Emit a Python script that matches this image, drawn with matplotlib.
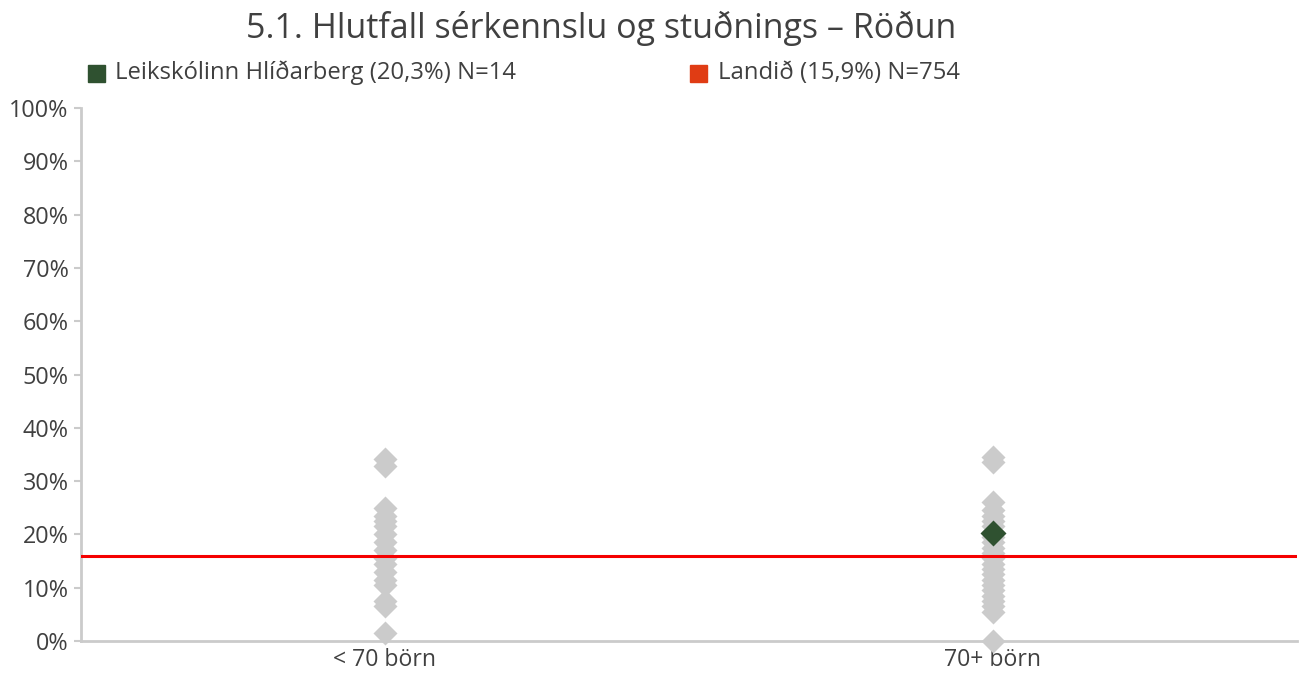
import numpy as np
import matplotlib.pyplot as plt
from matplotlib.patches import Rectangle

plt.rcParams['font.family'] = ['Open Sans', 'DejaVu Sans']

categories = ['< 70 börn', '70+ börn']

# All schools, share of children receiving special support (%)
small_schools = [34.2, 32.9, 25.0, 23.5, 22.5, 21.5, 20.0, 18.5, 17.0,
                 15.5, 14.5, 13.0, 11.5, 10.5, 7.5, 6.5, 1.5]
large_schools = [34.5, 33.5, 26.0, 24.5, 23.5, 22.5, 21.5, 20.5, 19.5,
                 18.5, 17.5, 16.5, 15.5, 14.5, 13.5, 12.5, 11.5, 10.5,
                 9.5, 8.5, 7.5, 6.5, 5.5, 0.0]

school_name = 'Leikskólinn Hlíðarberg'
school_value = 20.3
school_n = 14
school_group = 1
national_value = 15.9
national_n = 754

gray = '#cbcbcb'
green = '#2f5130'
red = '#f50000'
text_col = '#404040'

fig = plt.figure(figsize=(13.06, 6.73), dpi=100)
ax = fig.add_axes([0.062, 0.0475, 0.931, 0.792])

ax.plot([0] * len(small_schools), small_schools, 'D', ms=12.5,
        color=gray, mec='none', clip_on=False, zorder=2)
ax.plot([1] * len(large_schools), large_schools, 'D', ms=12.5,
        color=gray, mec='none', clip_on=False, zorder=2)
ax.axhline(national_value, color=red, lw=2.2, zorder=3)
ax.plot([school_group], [school_value], 'D', ms=13.5, color=green,
        mec='none', clip_on=False, zorder=4)

ax.set_xlim(-0.5, 1.5)
ax.set_ylim(0, 100)
ax.set_yticks(np.arange(0, 101, 10))
ax.set_yticklabels([f'{v}%' for v in range(0, 101, 10)])
ax.set_xticks([0, 1])
ax.set_xticklabels(categories)

for side in ['top', 'right']:
    ax.spines[side].set_visible(False)
for side in ['left', 'bottom']:
    ax.spines[side].set_color(gray)
    ax.spines[side].set_linewidth(2)
ax.tick_params(axis='y', colors=gray, length=5, width=1.5, labelsize=16.8,
               labelcolor=text_col, pad=4)
ax.tick_params(axis='x', length=0, labelsize=16.6, labelcolor=text_col, pad=5)

fig.text(0.46, 0.958, '5.1. Hlutfall sérkennslu og stuðnings \u2013 Röðun',
         ha='center', va='center', fontsize=24.5, color=text_col)

# legend row
fig.patches.append(Rectangle((88 / 1306, 1 - 82 / 673), 17 / 1306, 17 / 673,
                             transform=fig.transFigure, color=green))
fig.text(115 / 1306, 1 - 73 / 673,
         f'{school_name} ({school_value:.1f}%) N={school_n}'.replace('.', ','),
         va='center', fontsize=17.2, color=text_col)
fig.patches.append(Rectangle((690 / 1306, 1 - 82 / 673), 17 / 1306, 17 / 673,
                             transform=fig.transFigure, color='#e03c14'))
fig.text(718 / 1306, 1 - 73 / 673,
         f'Landið ({national_value:.1f}%) N={national_n}'.replace('.', ','),
         va='center', fontsize=17.2, color=text_col)

fig.savefig('out.png', dpi=100)
